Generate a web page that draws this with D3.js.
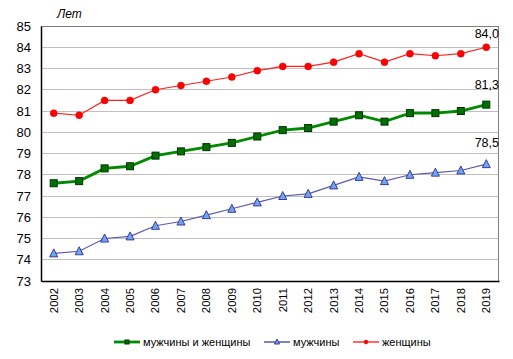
<!DOCTYPE html>
<html><head><meta charset="utf-8">
<script src="https://cdn.jsdelivr.net/npm/d3@7"></script>
<style>body{margin:0;background:#fff}svg{display:block;font-family:"Liberation Sans",Arial,sans-serif}</style>
</head><body>
<script>
const years = ["2002","2003","2004","2005","2006","2007","2008","2009","2010","2011","2012","2013","2014","2015","2016","2017","2018","2019"];
const both  = [77.6,77.7,78.3,78.4,78.9,79.1,79.3,79.5,79.8,80.1,80.2,80.5,80.8,80.5,80.9,80.9,81.0,81.3];
const men   = [74.3,74.4,75.0,75.1,75.6,75.8,76.1,76.4,76.7,77.0,77.1,77.5,77.9,77.7,78.0,78.1,78.2,78.5];
const women = [80.9,80.8,81.5,81.5,82.0,82.2,82.4,82.6,82.9,83.1,83.1,83.3,83.7,83.3,83.7,83.6,83.7,84.0];
const yTicks = [73,74,75,76,77,78,79,80,81,82,83,84,85];
const seriesNames = ["мужчины и женщины","мужчины","женщины"];
const lastLabels = ["81,3","78,5","84,0"];
const yUnit = "Лет";

const W=513,H=359;
const L=41,R=499,T=26,B=281;
const svg=d3.select("body").append("svg").attr("width",W).attr("height",H);
const x=d3.scaleBand().domain(years).range([L,R]);
const y=d3.scaleLinear().domain([73,85]).range([B,T]);
const cx=d=>x(d)+x.bandwidth()/2;

// grid
svg.append("g").selectAll("line").data(yTicks.filter(v=>v>73&&v<85)).join("line")
  .attr("x1",L).attr("x2",R).attr("y1",d=>y(d)).attr("y2",d=>y(d))
  .attr("stroke","#c0c0c0").attr("stroke-width",1).attr("shape-rendering","crispEdges");
// frame
svg.append("line").attr("x1",L).attr("x2",R).attr("y1",T+0.5).attr("y2",T+0.5).attr("stroke","#808080");
svg.append("line").attr("x1",R-0.5).attr("x2",R-0.5).attr("y1",T).attr("y2",B).attr("stroke","#808080");

// axes
const ya=svg.append("g").attr("transform",`translate(${L},0)`)
  .call(d3.axisLeft(y).tickValues(yTicks).tickSize(0).tickPadding(10).tickFormat(d3.format("d")));
ya.select(".domain").attr("stroke","#000").attr("stroke-width",1.5);
ya.selectAll("text").attr("font-size",13).attr("fill","#000").attr("font-family","Liberation Sans, Arial");
const xa=svg.append("g").attr("transform",`translate(0,${B})`)
  .call(d3.axisBottom(x).tickSize(0));
xa.select(".domain").attr("stroke","#000").attr("stroke-width",1.5);
xa.selectAll("text").attr("font-size",11.3).attr("fill","#000").attr("font-family","Liberation Sans, Arial")
  .attr("text-anchor","end").attr("dy","0.35em")
  .attr("transform","translate(0,7) rotate(-90)").attr("x",0).attr("y",0);

svg.append("text").attr("x",57).attr("y",18).attr("font-size",12).attr("font-style","italic").text(yUnit);

const line=d3.line().x((d,i)=>cx(years[i])).y(d=>y(d));
const sty=[
  {data:both,stroke:"#008a00",lstroke:"#008a00",sw:2.8,fill:"#007000",mstroke:"#003000",shape:"sq",lblOff:16},
  {data:men,stroke:"#5a5aaa",lstroke:"#3030a0",sw:1.2,fill:"#6fa6f0",mstroke:"#3a3a9a",shape:"tri",lblOff:17},
  {data:women,stroke:"#ff2020",lstroke:"#ff0000",sw:1.2,fill:"#ff0000",mstroke:"#e00000",shape:"dot",lblOff:9.5}
];
function marker(g,s,px,py,sz){
  if(s.shape==="sq") g.append("rect").attr("x",px-sz/2).attr("y",py-sz/2).attr("width",sz).attr("height",sz).attr("fill",s.fill).attr("stroke",s.mstroke).attr("stroke-width",1);
  else if(s.shape==="tri") g.append("path").attr("d",`M${px},${py-sz/2-1}L${px+sz/2+0.5},${py+sz/2}L${px-sz/2-0.5},${py+sz/2}Z`).attr("fill",s.fill).attr("stroke",s.mstroke).attr("stroke-width",1);
  else g.append("circle").attr("cx",px).attr("cy",py).attr("r",sz/2).attr("fill",s.fill).attr("stroke",s.mstroke).attr("stroke-width",0.5);
}
sty.forEach(s=>{
  const g=svg.append("g");
  g.append("path").datum(s.data).attr("d",line).attr("fill","none").attr("stroke",s.stroke).attr("stroke-width",s.sw);
  s.data.forEach((v,i)=>marker(g,s,cx(years[i]),y(v),7));
});
// last value labels
sty.forEach((s,k)=>{
  const v=s.data[s.data.length-1];
  svg.append("text").attr("x",R).attr("y",y(v)-s.lblOff).attr("text-anchor","end").attr("font-size",12.5).attr("fill","#000").text(lastLabels[k]);
});

// legend
const lg=[{x0:114,tx:143},{x0:264,tx:293},{x0:353,tx:382}];
const ly=342;
sty.forEach((s,k)=>{
  const g=svg.append("g");
  g.append("line").attr("x1",lg[k].x0).attr("x2",lg[k].x0+26).attr("y1",ly).attr("y2",ly).attr("stroke",s.lstroke).attr("stroke-width",s.sw);
  marker(g,s,lg[k].x0+13,ly,4);
  g.append("text").attr("x",lg[k].tx).attr("y",ly).attr("dy","0.35em").attr("font-size",11).attr("fill","#000").text(seriesNames[k]);
});
</script>
</body></html>
